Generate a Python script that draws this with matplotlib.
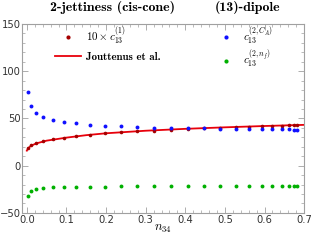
# 2-jettiness (cis-cone), (13)-dipole coefficients vs n34
import matplotlib
matplotlib.use("Agg")
import matplotlib.pyplot as plt
from matplotlib.ticker import MultipleLocator
from matplotlib.lines import Line2D

# sample points in n34
n34 = [0.003, 0.011, 0.024, 0.042, 0.065, 0.093, 0.124, 0.159, 0.197, 0.237,
       0.278, 0.320, 0.364, 0.407, 0.448, 0.488, 0.527, 0.561, 0.593, 0.620,
       0.643, 0.661, 0.675, 0.683]

# 10 x c13^(1)
c1_x10 = [18.3, 21.4, 23.6, 25.7, 27.8, 29.2, 31.0, 32.8, 34.1, 35.2,
          36.3, 37.2, 38.2, 39.0, 39.7, 40.3, 40.9, 41.4, 41.8, 42.1,
          42.4, 42.6, 42.7, 42.8]

# c13^(2,CA)
c2_CA = [77.8, 63.0, 56.0, 51.4, 48.6, 46.0, 44.7, 43.3, 42.3, 41.5,
         40.8, 40.4, 40.1, 39.8, 39.5, 39.2, 39.0, 38.8, 38.6, 38.5,
         38.4, 38.3, 38.2, 38.2]

# c13^(2,nf)
c2_nf = [-31.7, -27.2, -24.7, -23.6, -22.9, -22.5, -22.3, -22.2, -22.1, -22.0,
         -22.0, -21.9, -21.9, -21.8, -21.8, -21.8, -21.8, -21.8, -21.8, -21.8,
         -21.8, -21.8, -21.8, -21.8]

# Jouttenus et al. curve
jout_x = [0.0, 0.003, 0.01, 0.024, 0.05, 0.1, 0.15, 0.2, 0.3, 0.4, 0.5, 0.6, 0.7]
jout_y = [15.9, 18.2, 21.0, 23.6, 26.5, 29.7, 32.3, 34.3, 37.0, 39.0, 40.6, 42.0, 43.2]

plt.rcParams['mathtext.fontset'] = 'cm'

fig = plt.figure(figsize=(3.12, 2.52), dpi=100)
ax = fig.add_axes([0.072, 0.155, 0.903, 0.75])

ax.plot(jout_x, jout_y, '-', color='#e8000b', lw=1.3, zorder=2)
ax.plot(n34, c1_x10, 'o', color='#a50000', ms=2.6, mew=0, zorder=3)
ax.plot(n34, c2_CA, 'o', color='#1010ff', ms=2.8, mew=0, zorder=3)
ax.plot(n34, c2_nf, 'o', color='#00b000', ms=2.8, mew=0, zorder=3)

ax.set_xlim(-0.011, 0.7)
ax.set_ylim(-50, 150)
ax.xaxis.set_major_locator(MultipleLocator(0.1))
ax.xaxis.set_minor_locator(MultipleLocator(0.02))
ax.yaxis.set_major_locator(MultipleLocator(50))
ax.yaxis.set_minor_locator(MultipleLocator(10))
ax.xaxis.set_major_formatter(plt.FuncFormatter(lambda v, p: "%.1f" % v))

for s in ax.spines.values():
	s.set_color('#a0a0a0')
	s.set_linewidth(0.8)
ax.tick_params(which='both', direction='in', top=True, right=True,
	color='#a0a0a0', labelcolor='#333333', labelsize=7.2, pad=1.5)
ax.tick_params(which='major', length=4, width=0.6)
ax.tick_params(which='minor', length=2, width=0.5)
ax.tick_params(axis='y', which='both', pad=1)

ax.set_xlabel(r'$n_{34}$', fontsize=9, labelpad=-2)

tfont = dict(family=['cmb10', 'DejaVu Serif'], fontsize=10, ha='center', va='center')
fig.text(112 / 312, 1 - 8 / 252, '2-jettiness (cis-cone)', **tfont)
fig.text(248 / 312, 1 - 8 / 252, '(13)-dipole', **tfont)

h1 = [Line2D([], [], ls='none', marker='o', color='#a50000', ms=3, mew=0),
      Line2D([], [], ls='-', color='#e8000b', lw=1.3)]
lab1 = [r'$\mathbf{10}\times c_{\mathbf{13}}^{(1)}$', 'Jouttenus et al.']
leg1 = ax.legend(h1, lab1, loc='upper left', bbox_to_anchor=(0.08, 1.045),
	frameon=False, handlelength=2.4, handletextpad=0.4, labelspacing=0.45,
	prop=dict(family=['cmb10', 'DejaVu Serif'], size=7.9))
ax.add_artist(leg1)

h2 = [Line2D([], [], ls='none', marker='o', color='#1010ff', ms=3, mew=0),
      Line2D([], [], ls='none', marker='o', color='#00b000', ms=3, mew=0)]
lab2 = [r'$c_{\mathbf{13}}^{(2,C_A)}$', r'$c_{\mathbf{13}}^{(2,n_f)}$']
ax.legend(h2, lab2, loc='upper left', bbox_to_anchor=(0.645, 1.045),
	frameon=False, handlelength=2.2, handletextpad=0.4, labelspacing=0.15,
	prop=dict(size=7.9))

fig.savefig('out.png', dpi=100)
